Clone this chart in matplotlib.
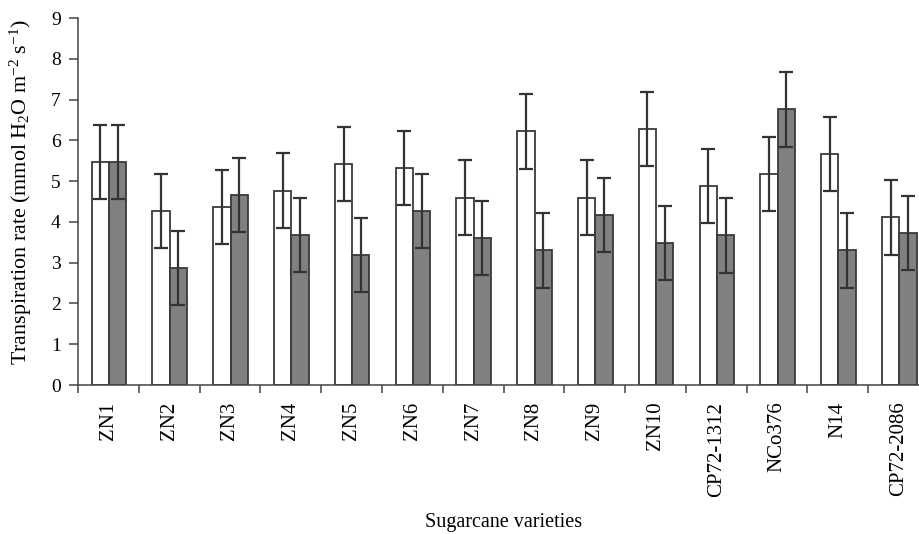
import matplotlib
matplotlib.use('Agg')
import matplotlib.pyplot as plt
import numpy as np

plt.rcParams['font.family'] = ['Liberation Serif', 'DejaVu Serif']
plt.rcParams['mathtext.fontset'] = 'custom'
plt.rcParams['mathtext.rm'] = 'Liberation Serif'
plt.rcParams['mathtext.it'] = 'Liberation Serif:italic'

# sugarcane varieties and transpiration rates (two treatments)
varieties = ['ZN1', 'ZN2', 'ZN3', 'ZN4', 'ZN5', 'ZN6', 'ZN7', 'ZN8', 'ZN9',
             'ZN10', 'CP72-1312', 'NCo376', 'N14', 'CP72-2086']
white_vals = [5.47, 4.27, 4.37, 4.77, 5.42, 5.33, 4.60, 6.22, 4.60,
              6.28, 4.89, 5.18, 5.67, 4.11]
gray_vals = [5.47, 2.88, 4.67, 3.68, 3.19, 4.26, 3.60, 3.30, 4.18,
             3.49, 3.67, 6.76, 3.30, 3.72]
white_err = [0.90, 0.91, 0.91, 0.91, 0.91, 0.91, 0.91, 0.91, 0.91,
             0.91, 0.91, 0.91, 0.91, 0.91]
gray_err = [0.90, 0.91, 0.91, 0.91, 0.91, 0.91, 0.91, 0.91, 0.91,
            0.91, 0.91, 0.91, 0.91, 0.91]

fig = plt.figure(figsize=(9.19, 5.34), dpi=100)
ax = fig.add_axes([0.0849, 0.279, 0.926, 0.687])

x = np.arange(len(varieties)) + 0.5
w = 0.285
edge = '#3a3a3a'
err_kw = dict(ecolor='#333333', elinewidth=1.6, capsize=5, capthick=1.6)

ax.bar(x - w / 2 + 0.01, white_vals, w, color='white', edgecolor=edge,
       linewidth=1.3, yerr=white_err, error_kw=err_kw, zorder=2)
ax.bar(x + w / 2 + 0.01, gray_vals, w, color='#808080', edgecolor=edge,
       linewidth=1.3, yerr=gray_err, error_kw=err_kw, zorder=2)

ax.set_xlim(0, len(varieties))
ax.set_ylim(0, 9)
ax.set_yticks(range(10))

# boundary ticks between groups, labels at group centres
ax.set_xticks(np.arange(len(varieties) + 1))
ax.set_xticklabels([])
ax.set_xticks(x, minor=True)
ax.set_xticklabels(varieties, minor=True, rotation=90, fontsize=15)
ax.tick_params(axis='x', which='major', length=6, width=1.1, color='#444444')
ax.tick_params(axis='x', which='minor', length=0, pad=12)
ax.tick_params(axis='y', length=6.5, width=1.1, color='#444444', labelsize=14, pad=6)

for s in ['top', 'right']:
    ax.spines[s].set_visible(False)
for s in ['left', 'bottom']:
    ax.spines[s].set_color('#444444')
    ax.spines[s].set_linewidth(1.1)

ax.set_ylabel('Transpiration rate (mmol H$_2$O m$^{-2}$ s$^{-1}$)', fontsize=15.8)
ax.yaxis.set_label_coords(-0.052, 0.525)
ax.set_xlabel('Sugarcane varieties', fontsize=14.5)
ax.xaxis.set_label_coords(0.5, -0.35)

fig.savefig('out.png', dpi=100)
